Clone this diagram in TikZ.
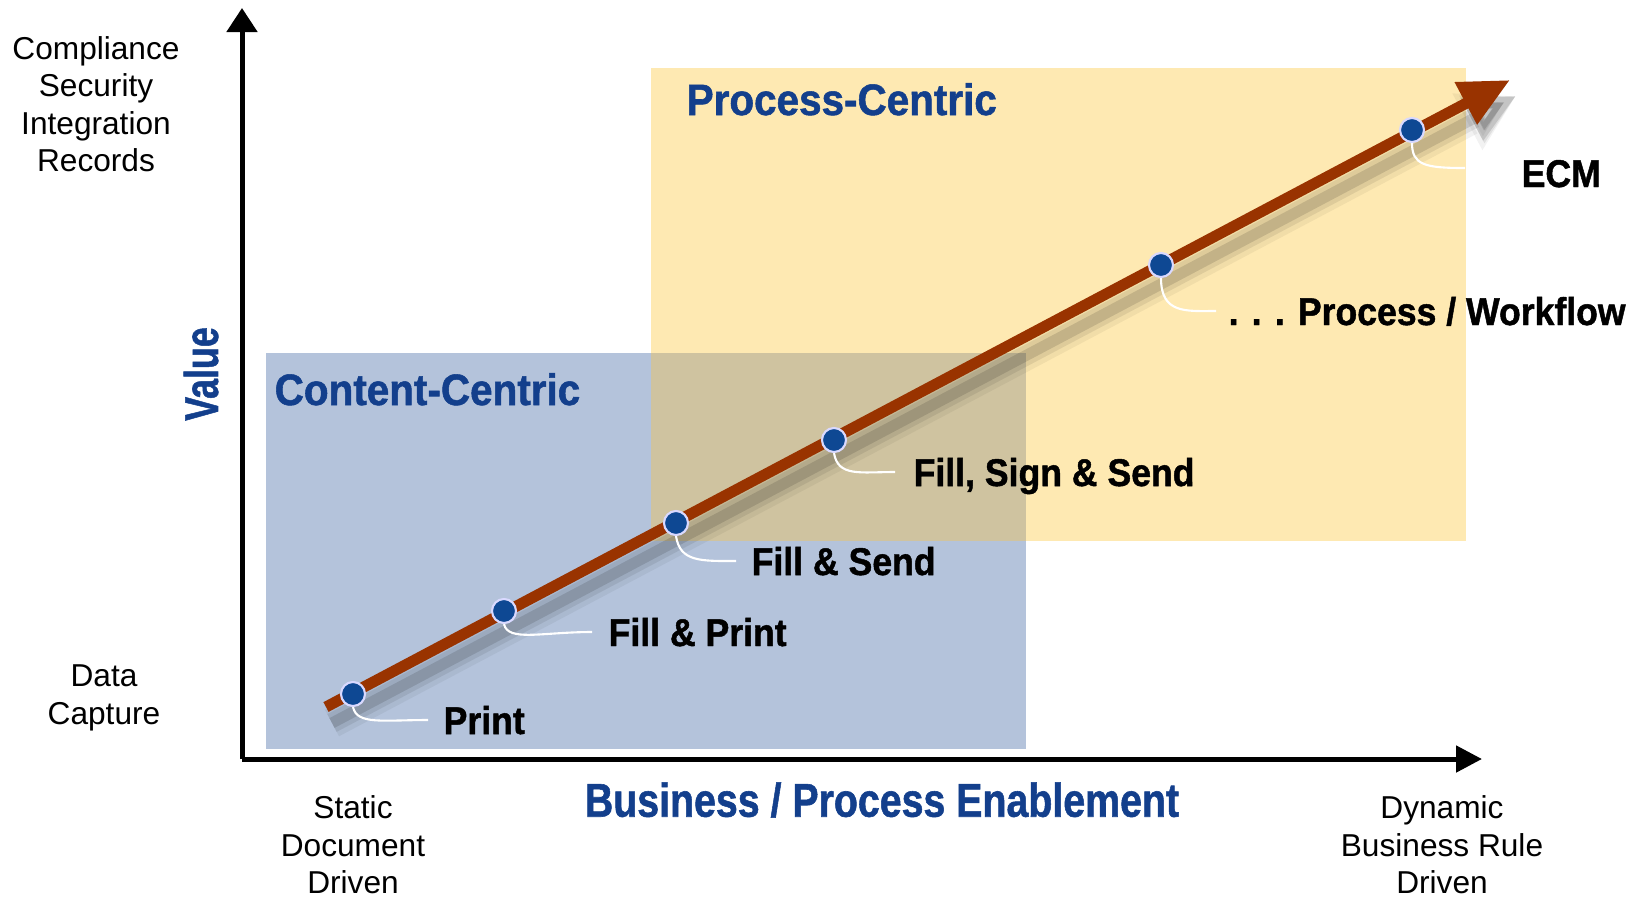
\documentclass[tikz,border=0pt]{standalone}
\usepackage{fontspec}
\setmainfont{Liberation Sans}
\newfontfamily\hv[FakeStretch=0.92,FakeBold=1.2]{Liberation Sans Bold}
\usetikzlibrary{arrows.meta}
\definecolor{bluebox}{HTML}{B4C3DB}
\definecolor{yellowbox}{HTML}{FEE9B2}
\definecolor{overlapbox}{HTML}{CFC3A0}
\definecolor{headblue}{HTML}{133F8C}
\definecolor{rust}{HTML}{993300}
\definecolor{dotblue}{HTML}{0E4893}
\tikzset{
  lab/.style={font=\hv\fontsize{11}{13}\selectfont, anchor=base west, inner sep=0pt},
  head/.style={font=\hv\fontsize{12.5}{15}\selectfont, text=headblue, anchor=base west, inner sep=0pt},
  side/.style={font=\fontsize{9}{10.67}\selectfont, align=center, inner sep=0pt},
  dotn/.style={circle, fill=dotblue, draw=white!85!blue, line width=0.6pt, minimum size=0.24cm, inner sep=0pt},
  leader/.style={draw=white, line width=0.6pt},
  axis/.style={line width=0.05cm, black},
}
\begin{document}
\begin{tikzpicture}[x=0.01cm,y=-0.01cm]
\useasboundingbox (0,0) rectangle (1636,899);
% regions
\fill[yellowbox] (651,68) rectangle (1466,541);
\fill[bluebox] (266,353) rectangle (1026,749);
\fill[overlapbox] (651,353) rectangle (1026,541);
% headings
\node[head] (pc) at (686,115) {Process-Centric};
\node[head] (cc) at (274,405) {Content-Centric};
% axes
\coordinate (origin) at (242,759);
\coordinate (ytop) at (242,8);
\coordinate (xend) at (1482,759);
\draw[axis, -{Triangle[length=0.24cm,width=0.30cm]}] (origin) -- (ytop);
\draw[axis, -{Triangle[length=0.26cm,width=0.26cm]}] (origin) -- (xend);
% main arrow
\coordinate (s) at (326,707);
\coordinate (t) at (1510,80);
\coordinate (ss) at (332,723);
\coordinate (ts) at (1516,96);
\draw[line width=0.30cm, black, opacity=0.05, -{Triangle[length=0.55cm,width=0.6cm]}] (ss) -- (ts);
\draw[line width=0.20cm, black, opacity=0.08, -{Triangle[length=0.5cm,width=0.5cm]}] (ss) -- (ts);
\draw[line width=0.11cm, black, opacity=0.12, -{Triangle[length=0.5cm,width=0.45cm]}] (ss) -- (ts);
\draw[line width=0.11cm, rust, -{Triangle[length=0.5cm,width=0.45cm]}] (s) -- (t);
% dots
\node[dotn] (d1) at (353,694) {};
\node[dotn] (d2) at (504,611) {};
\node[dotn] (d3) at (676,523) {};
\node[dotn] (d4) at (834,440) {};
\node[dotn] (d5) at (1161,265) {};
\node[dotn] (d6) at (1412,130) {};
% leader ends
\coordinate (e1) at (428,720);
\coordinate (e2) at (592,632);
\coordinate (e3) at (736,561);
\coordinate (e4) at (895,472);
\coordinate (e5) at (1216,311);
\coordinate (e6) at (1465,168);
\draw[leader] (d1.south) .. controls +(4,18) and +(-45,0) .. (e1);
\draw[leader] (d2.south) .. controls +(4,18) and +(-50,0) .. (e2);
\draw[leader] (d3.south) .. controls +(4,26) and +(-35,0) .. (e3);
\draw[leader] (d4.south) .. controls +(4,24) and +(-35,0) .. (e4);
\draw[leader] (d5.south) .. controls +(0,36) and +(-30,0) .. (e5);
\draw[leader] (d6.south) .. controls +(0,22) and +(-40,0) .. (e6);
% labels
\node[lab] (l1) at (443,734) {Print};
\node[lab] (l2) at (608,646) {Fill \& Print};
\node[lab] (l3) at (751,575) {Fill \& Send};
\node[lab] (l4) at (913,486) {Fill, Sign \& Send};
\node[lab] (l5) at (1228,325) {. . . Process / Workflow};
\node[lab] (l6) at (1521,187) {ECM};
% axis titles
\node[rotate=90, font=\hv\fontsize{13.5}{16}\selectfont, text=headblue, inner sep=0pt] (val) at (201,374) {\scalebox{0.82}[1]{Value}};
\node[font=\hv\fontsize{13.5}{16}\selectfont, text=headblue, inner sep=0pt] (bpe) at (882,800) {\scalebox{0.9}[1]{Business / Process Enablement}};
% side texts
\node[side] (top) at (96,104) {Compliance\\Security\\Integration\\Records};
\node[side] (dc) at (104,698) {Data\\Capture};
\node[side] (sdd) at (353,845) {Static\\Document\\Driven};
\node[side] (dbr) at (1442,845) {Dynamic\\Business Rule\\Driven};
\end{tikzpicture}
\end{document}
